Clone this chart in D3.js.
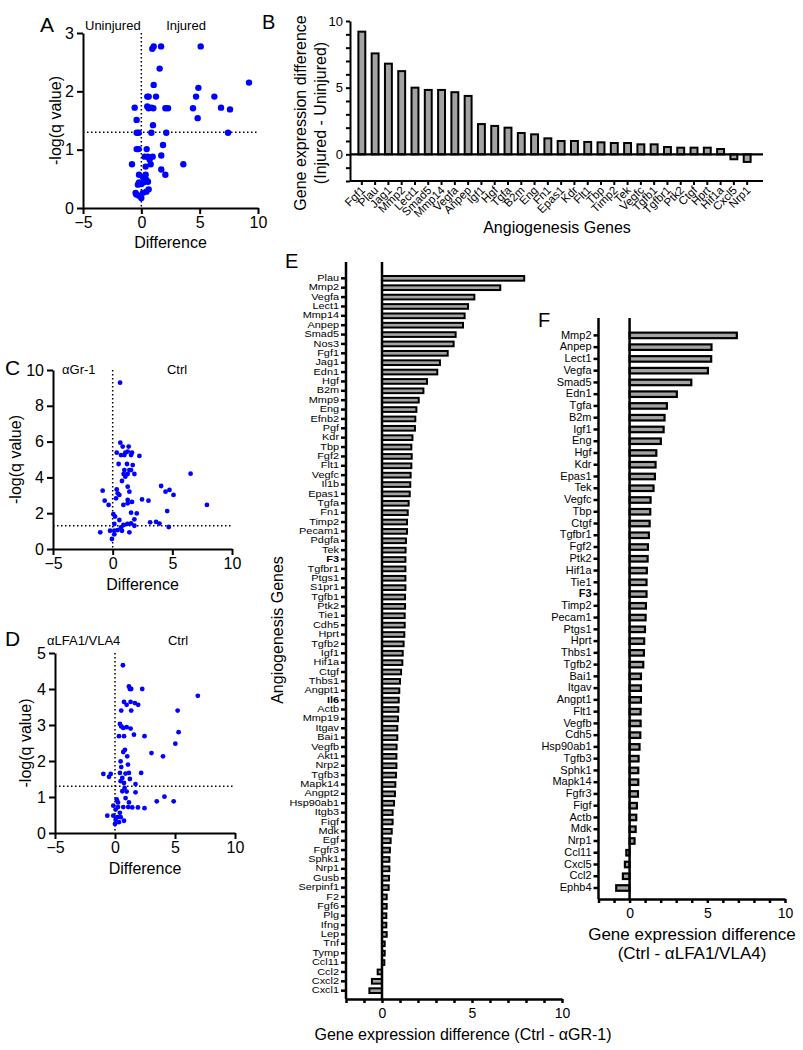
<!DOCTYPE html>
<html><head><meta charset="utf-8">
<script src="https://cdn.jsdelivr.net/npm/d3@7"></script>
<style>body{margin:0;background:#fff} svg text{font-family:"Liberation Sans",Arial,sans-serif;fill:#000}</style>
</head><body><svg id="c" width="803" height="1050"></svg>
<script>
// ---------- DATA ----------
const volcanoA = [[1.06,2.77],[0.94,2.73],[1.69,2.77],[5.09,2.77],[1.57,2.39],[1.06,2.11],[9.23,2.15],[4.89,2.06],[0.51,1.91],[0.63,1.91],[1.26,1.91],[4.69,1.91],[6.26,1.91],[-0.57,1.72],[0.51,1.74],[0.63,1.71],[0.86,1.72],[1.03,1.71],[2.06,1.71],[2.29,1.71],[4.43,1.71],[6.83,1.72],[7.6,1.69],[4.83,1.54],[-0.4,1.51],[1.0,1.42],[-0.4,1.29],[-0.23,1.29],[0.86,1.29],[2.14,1.29],[7.43,1.29],[1.86,1.08],[-0.4,1.01],[-0.23,1.01],[0.46,1.01],[0.29,0.88],[0.57,0.88],[0.97,0.88],[1.71,0.9],[0.71,0.83],[-0.8,0.75],[0.8,0.75],[3.6,0.75],[0.37,0.71],[1.71,0.66],[-0.2,0.57],[0.37,0.57],[2.06,0.57],[0.14,0.53],[0.43,0.48],[-0.2,0.44],[-0.29,0.4],[0,0.41],[0.2,0.44],[0.57,0.45],[0.63,0.32],[0.43,0.28],[-0.43,0.23],[-0.2,0.21],[0,0.17],[0.14,0.26],[-0.49,0.26]];
const volcanoC = [[0.62,9.29],[0.64,5.94],[0.34,5.38],[0.84,5.72],[1.06,5.38],[0.7,5.25],[0.98,5.25],[1.26,5.44],[1.34,5.72],[1.54,5.25],[1.62,5.38],[2.24,5.2],[0.5,4.75],[1.2,4.75],[1.68,4.69],[0.98,4.41],[1.4,4.41],[0.92,4.19],[1.26,4.19],[1.82,4.19],[1.54,4.41],[1.06,4.04],[6.53,4.21],[0.78,3.8],[4.06,3.52],[0.34,3.33],[1.26,3.48],[4.76,3.3],[4.43,3.2],[5.1,3.02],[-0.84,3.26],[0.42,3.11],[1.4,3.2],[0.56,3.02],[0.28,2.83],[1.26,2.74],[2.46,2.77],[3.0,2.7],[-0.67,2.7],[1.62,2.63],[-0.34,2.46],[0.9,2.46],[1.26,2.55],[7.9,2.46],[4.57,2.12],[1.54,2.03],[2.02,1.99],[0.06,1.94],[0.2,1.81],[1.82,1.66],[0.56,1.62],[3.14,1.49],[3.64,1.51],[3.92,1.42],[0.14,1.4],[0.9,1.34],[1.23,1.4],[1.54,1.43],[1.82,1.3],[4.7,1.23],[0.7,1.21],[0.42,1.06],[-0.22,1.02],[0.14,1.02],[0.78,1.02],[-1.04,0.93],[1.4,0.93],[0.14,0.82],[-0.06,0.56]];
const volcanoD = [[0.66,4.66],[1.16,4.07],[1.24,4.0],[1.35,4.0],[2.27,4.0],[6.9,3.81],[0.75,3.64],[0.97,3.56],[1.3,3.64],[1.66,3.61],[1.93,3.56],[0.52,3.4],[1.35,3.4],[5.22,3.4],[0.41,3.03],[0.52,2.96],[0.69,2.92],[0.97,2.94],[1.3,2.9],[5.3,2.8],[0.33,2.69],[0.75,2.69],[1.58,2.73],[2.46,2.69],[5.03,2.48],[0.83,2.31],[0.69,2.25],[3.04,2.22],[4.0,2.13],[1.02,2.13],[0.47,1.99],[1.08,1.9],[0.52,1.83],[-0.97,1.64],[-0.36,1.64],[-0.5,1.56],[0.41,1.67],[0.88,1.65],[1.16,1.67],[2.18,1.67],[0.61,1.53],[1.24,1.5],[0.47,1.44],[0.75,1.39],[1.71,1.36],[0.8,1.25],[0.61,1.16],[0.97,1.15],[1.71,1.13],[0.14,0.93],[0.88,0.97],[0.25,0.85],[1.16,0.85],[4.12,1.01],[3.48,0.88],[4.89,0.88],[-0.14,0.76],[0.25,0.72],[0.69,0.72],[1.1,0.72],[1.44,0.71],[1.91,0.71],[2.46,0.69],[0.05,0.65],[0.41,0.56],[-0.64,0.48],[-0.14,0.48],[0.19,0.44],[0.47,0.44],[0.05,0.37],[0.75,0.34],[0.33,0.3],[0,0.25]];

const genesB = ["Fgf1","Plau","Jag1","Mmp2","Lect1","Smad5","Mmp14","Vegfa","Anpep","Igf1","Hgf","Tgfa","B2m","Eng","Fn1","Epas1","Kdr","Flt1","Tbp","Timp2","Tek","Vegfc","Tgfb1","Tgfbr1","Ptk2","Ctgf","Hprt","Hif1a","Cxcl5","Nrp1"];
const valuesB = [9.2,7.57,6.8,6.24,5.0,4.83,4.83,4.66,4.38,2.27,2.13,2.0,1.6,1.5,1.2,1.0,1.0,0.93,0.9,0.85,0.85,0.75,0.75,0.55,0.5,0.5,0.5,0.4,-0.37,-0.57];

const genesE = ["Plau","Mmp2","Vegfa","Lect1","Mmp14","Anpep","Smad5","Nos3","Fgf1","Jag1","Edn1","Hgf","B2m","Mmp9","Eng","Efnb2","Pgf","Kdr","Tbp","Fgf2","Flt1","Vegfc","Il1b","Epas1","Tgfa","Fn1","Timp2","Pecam1","Pdgfa","Tek","F3","Tgfbr1","Ptgs1","S1pr1","Tgfb1","Ptk2","Tie1","Cdh5","Hprt","Tgfb2","Igf1","Hif1a","Ctgf","Thbs1","Angpt1","Il6","Actb","Mmp19","Itgav","Bai1","Vegfb","Akt1","Nrp2","Tgfb3","Mapk14","Angpt2","Hsp90ab1","Itgb3","Figf","Mdk","Egf","Fgfr3","Sphk1","Nrp1","Gusb","Serpinf1","F2","Fgf6","Plg","Ifng","Lep","Tnf","Tymp","Ccl11","Ccl2","Cxcl2","Cxcl1"];
const valuesE = [7.9,6.57,5.13,4.78,4.59,4.5,4.09,3.98,3.65,3.22,3.07,2.5,2.3,2.04,1.91,1.85,1.83,1.69,1.63,1.65,1.63,1.59,1.57,1.54,1.48,1.43,1.39,1.39,1.33,1.31,1.30,1.30,1.30,1.30,1.28,1.28,1.26,1.26,1.24,1.2,1.15,1.13,1.06,1.0,0.96,0.93,0.91,0.89,0.85,0.85,0.81,0.8,0.8,0.78,0.74,0.72,0.67,0.59,0.59,0.54,0.48,0.44,0.41,0.41,0.39,0.37,0.26,0.26,0.24,0.24,0.26,0.15,0.15,0.13,-0.24,-0.56,-0.7];

const genesF = ["Mmp2","Anpep","Lect1","Vegfa","Smad5","Edn1","Tgfa","B2m","Igf1","Eng","Hgf","Kdr","Epas1","Tek","Vegfc","Tbp","Ctgf","Tgfbr1","Fgf2","Ptk2","Hif1a","Tie1","F3","Timp2","Pecam1","Ptgs1","Hprt","Thbs1","Tgfb2","Bai1","Itgav","Angpt1","Flt1","Vegfb","Cdh5","Hsp90ab1","Tgfb3","Sphk1","Mapk14","Fgfr3","Figf","Actb","Mdk","Nrp1","Ccl11","Cxcl5","Ccl2","Ephb4"];
const valuesF = [6.9,5.27,5.25,5.04,3.97,3.04,2.4,2.25,2.19,2.01,1.72,1.67,1.63,1.54,1.35,1.33,1.29,1.24,1.18,1.16,1.11,1.09,1.09,1.05,1.03,0.99,0.94,0.92,0.88,0.73,0.73,0.73,0.71,0.71,0.69,0.64,0.58,0.56,0.56,0.54,0.47,0.43,0.39,0.32,-0.21,-0.3,-0.43,-0.86];

const boldGenes = ["Il6","F3"];
const volcanoXTicks = [-5,0,5,10];
const barTicks = d3.range(-2,11);
const barLabelTicks = [0,5,10];

// ---------- DRAWING ----------
const svg = d3.select("#c");
const BLUE = "#0000ff", GRAY = "#a3a3a3";
const fmt = d3.format("d");

function styleAxis(g, fs, sw){
  g.selectAll(".domain").attr("stroke","#000").attr("stroke-width",sw||2);
  g.selectAll(".tick line").attr("stroke","#000").attr("stroke-width",sw||2);
  g.selectAll(".tick text").attr("font-size",fs).attr("font-family",null).attr("fill","#000");
}
function txt(x,y,s,fs,anchor,rot,weight){
  const t = svg.append("text").attr("font-size",fs).attr("text-anchor",anchor||"start").text(s);
  if(rot){ t.attr("transform",`translate(${x},${y}) rotate(${rot})`).attr("dy","0.35em"); }
  else t.attr("x",x).attr("y",y);
  if(weight) t.attr("font-weight",weight);
  return t;
}

function volcano(c){
  const x = d3.scaleLinear().domain([-5,10]).range([c.x0,c.x1]);
  const y = d3.scaleLinear().domain([0,c.ymax]).range([c.yb,c.yt]);
  const g = svg.append("g");
  g.append("line").attr("x1",x(0)).attr("x2",x(0)).attr("y1",c.yt).attr("y2",c.yb)
    .attr("stroke","#000").attr("stroke-width",1.5).attr("stroke-dasharray","1.5,2.5");
  g.append("line").attr("x1",c.x0).attr("x2",c.x1).attr("y1",y(1.3)).attr("y2",y(1.3))
    .attr("stroke","#000").attr("stroke-width",1.5).attr("stroke-dasharray","1.5,2.5");
  g.selectAll("circle").data(c.data).join("circle")
    .attr("cx",d=>x(d[0])).attr("cy",d=>y(d[1])).attr("r",c.r).attr("fill",BLUE);
  const ax = g.append("g").attr("transform",`translate(0,${c.yb})`)
    .call(d3.axisBottom(x).tickValues(volcanoXTicks).tickFormat(fmt).tickSize(6).tickSizeOuter(0).tickPadding(3));
  styleAxis(ax,16);
  const ay = g.append("g").attr("transform",`translate(${c.x0},0)`)
    .call(d3.axisLeft(y).tickValues(c.yticks).tickFormat(fmt).tickSize(6).tickSizeOuter(0).tickPadding(3));
  styleAxis(ay,16);
  txt((c.x0+c.x1)/2, c.titleY, "Difference", 16, "middle");
  txt(c.ytitleX, (c.yt+c.yb)/2, "-log(q value)", 16, "middle", -90);
  txt(c.lx, c.ly, c.letter, 21);
  txt(c.leftLabX, c.labY, c.leftLab, 13);
  txt(c.rightLabX, c.labY, c.rightLab, 13, "middle");
}

volcano({data:volcanoA,x0:83,x1:258,yb:208,yt:33,ymax:3,yticks:[0,1,2,3],r:3.2,
  titleY:248,ytitleX:55,letter:"A",lx:40,ly:32,leftLab:"Uninjured",leftLabX:85,rightLab:"Injured",rightLabX:186,labY:30});
volcano({data:volcanoC,x0:53,x1:232,yb:549,yt:370,ymax:10,yticks:[0,2,4,6,8,10],r:2.4,
  titleY:590,ytitleX:15,letter:"C",lx:5,ly:375,leftLab:"\u03b1Gr-1",leftLabX:62,rightLab:"Ctrl",rightLabX:177,labY:374});
volcano({data:volcanoD,x0:55,x1:235,yb:833,yt:653,ymax:5,yticks:[0,1,2,3,4,5],r:2.4,
  titleY:874,ytitleX:25,letter:"D",lx:5,ly:646,leftLab:"\u03b1LFA1/VLA4",leftLabX:47,rightLab:"Ctrl",rightLabX:178,labY:645});

// ---- Panel B: vertical bars ----
(function(){
  const x = d3.scaleBand().domain(genesB).range([352,757]).padding(0.48);
  const y = d3.scaleLinear().domain([-2,10]).range([181,21]);
  const g = svg.append("g");
  g.selectAll("rect").data(genesB).join("rect")
    .attr("x",d=>x(d)).attr("width",x.bandwidth())
    .attr("y",(d,i)=>y(Math.max(0,valuesB[i]))).attr("height",(d,i)=>Math.abs(y(valuesB[i])-y(0)))
    .attr("fill",GRAY).attr("stroke","#000").attr("stroke-width",2);
  g.append("line").attr("x1",350).attr("x2",763).attr("y1",y(0)).attr("y2",y(0)).attr("stroke","#000").attr("stroke-width",2.2);
  const ay = g.append("g").attr("transform","translate(350,0)")
    .call(d3.axisLeft(y).tickValues(barTicks).tickSize(4).tickSizeOuter(0).tickPadding(3)
      .tickFormat(d=>barLabelTicks.includes(d)?d:""));
  styleAxis(ay,13,2);
  const ax = g.append("g").attr("transform",`translate(0,${y(-2)})`)
    .call(d3.axisBottom(x).tickSize(4).tickSizeOuter(0));
  ax.select(".domain").attr("d",`M350,0H763`);
  styleAxis(ax,11.5,2);
  ax.selectAll(".tick text").attr("x",0).attr("y",0).attr("dy",0)
    .attr("text-anchor","end").attr("transform","translate(4,10) rotate(-45)");
  txt(557,233,"Angiogenesis Genes",16,"middle");
  txt(300,113,"Gene expression difference",16,"middle",-90);
  txt(320,113,"(Injured - Uninjured)",16,"middle",-90);
  txt(262,29,"B",20);
})();

// ---- Horizontal bar panels ----
function hbars(c){
  const y = d3.scaleBand().domain(c.genes).range([c.y0,c.y1]).padding(c.pad);
  const x = d3.scaleLinear().domain([-2,10]).range([c.x0,c.x1]);
  const g = svg.append("g");
  g.selectAll("rect").data(c.genes).join("rect")
    .attr("y",d=>y(d)).attr("height",y.bandwidth())
    .attr("x",(d,i)=>x(Math.min(0,c.values[i]))).attr("width",(d,i)=>Math.abs(x(c.values[i])-x(0)))
    .attr("fill",GRAY).attr("stroke","#000").attr("stroke-width",c.sw);
  g.append("line").attr("x1",x(0)).attr("x2",x(0)).attr("y1",c.top).attr("y2",c.bottom).attr("stroke","#000").attr("stroke-width",2.5);
  const ay = g.append("g").attr("transform",`translate(${c.x0},0)`)
    .call(d3.axisLeft(y).tickSize(5).tickSizeOuter(0).tickPadding(2));
  ay.select(".domain").attr("d",`M0,${c.top}V${c.bottom}`);
  styleAxis(ay,c.fs,2.5);
  ay.selectAll(".tick text")
    .attr("font-weight",d=>boldGenes.includes(d)?"bold":null)
    .attr("x",-7/c.sx).attr("transform",`scale(${c.sx},1)`);
  const ax = g.append("g").attr("transform",`translate(0,${c.bottom})`)
    .call(d3.axisBottom(x).tickValues(barTicks).tickSize(4).tickSizeOuter(0).tickPadding(5)
      .tickFormat(d=>barLabelTicks.includes(d)?d:""));
  styleAxis(ax,14,2.5);
  return {x,y};
}

hbars({genes:genesE,values:valuesE,y0:271.3,y1:997.7,pad:0.5,x0:346,x1:562,top:262,bottom:999,fs:8.2,sx:1.33,sw:2});
txt(285,268,"E",20);
txt(277,630,"Angiogenesis Genes",16,"middle",-90);
txt(463,1040,"Gene expression difference (Ctrl - \u03b1GR-1)",16,"middle");

hbars({genes:genesF,values:valuesF,y0:326.4,y1:897,pad:0.53,x0:598.5,x1:785,top:318,bottom:899,fs:10,sx:1.1,sw:2.2});
txt(538,327,"F",20);
txt(692,940,"Gene expression difference",17,"middle");
txt(692,959,"(Ctrl - \u03b1LFA1/VLA4)",17,"middle");
</script></body></html>
